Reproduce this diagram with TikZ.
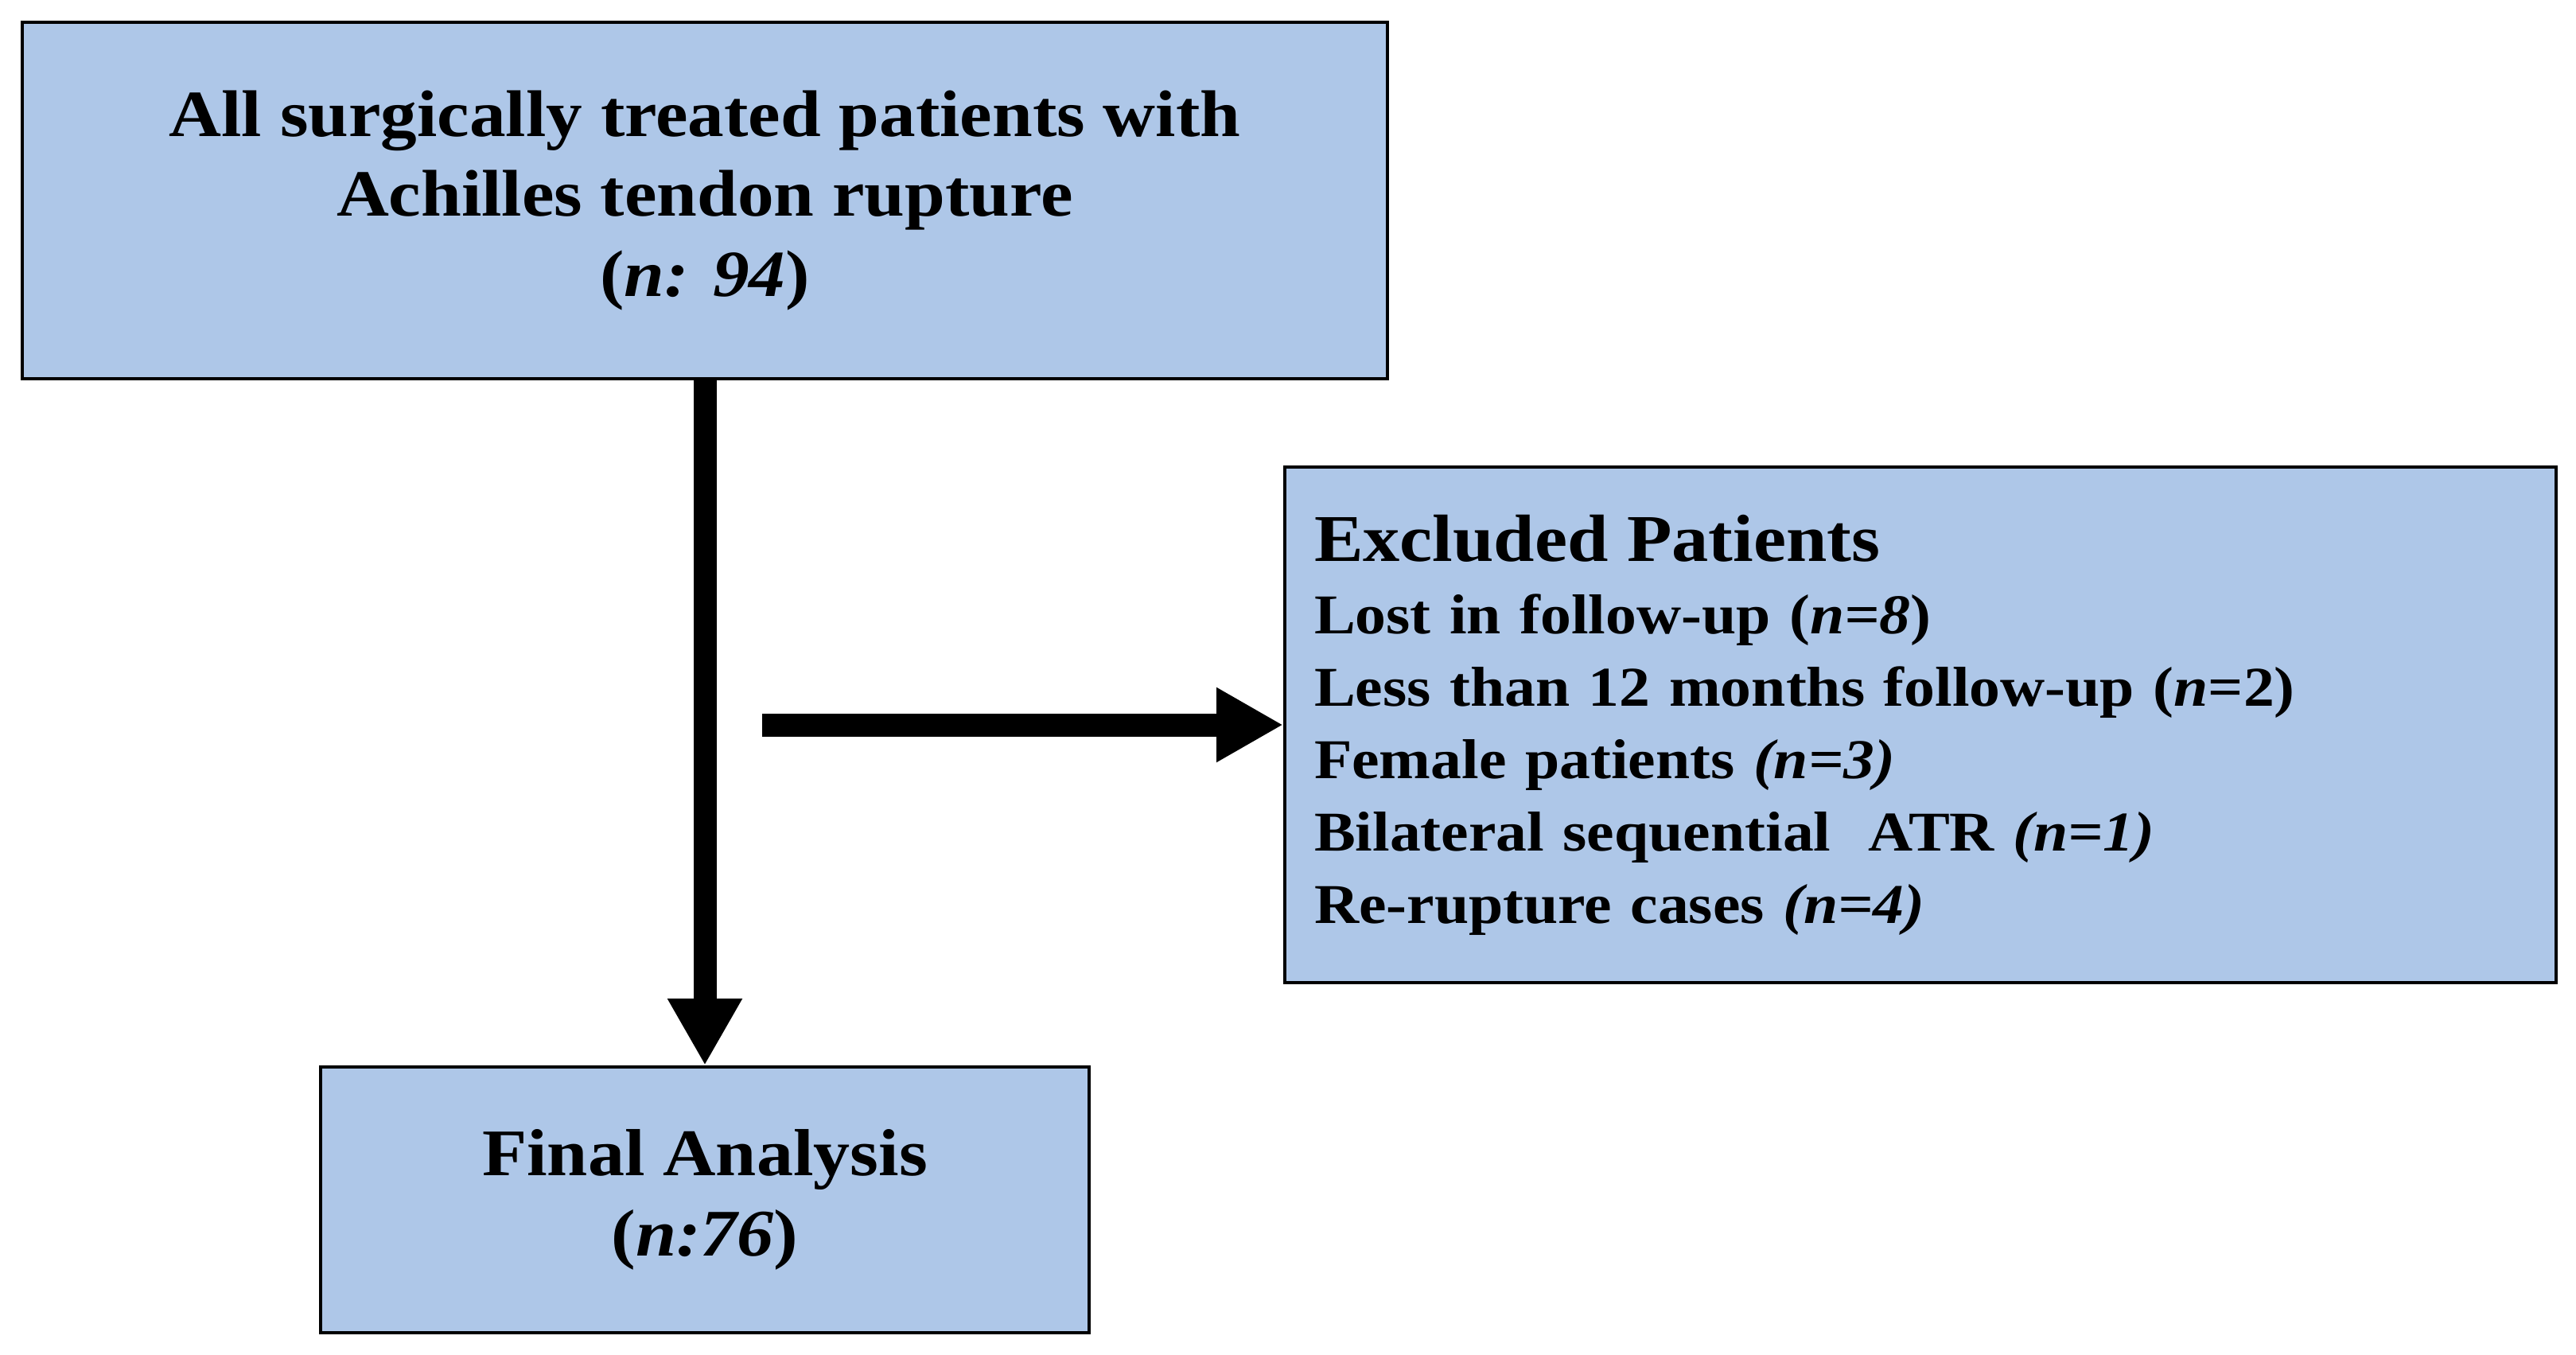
\documentclass[tikz,border=0pt]{standalone}
\usepackage{fontspec}
\setmainfont{Liberation Serif}[FakeStretch=1.1]
\usetikzlibrary{arrows.meta}
\definecolor{boxblue}{RGB}{174,199,232}
\tikzset{
  box/.style={draw=black, line width=0.04cm, fill=boxblue, inner sep=0pt},
  flow/.style={line width=0.29cm, -{Triangle[length=0.84cm, width=0.88cm]}},
}

\begin{document}
\begin{tikzpicture}
  \useasboundingbox (0,0) rectangle (32.38,-17.02);

  % Kutular
  \node[box, minimum width=17.16cm, minimum height=4.48cm, align=center,
        font=\bfseries\fontsize{23.6}{28.7}\selectfont] (all) at (8.86,-2.52)
        {All surgically treated patients with\\Achilles tendon rupture\\(\textit{n: 94})};
  \node[box, minimum width=15.98cm, minimum height=6.48cm, text width=15.24cm,
        inner xsep=0.37cm, align=left,
        font=\bfseries\fontsize{20.1}{25.9}\selectfont] (excl) at (24.14,-9.11)
        {{\fontsize{23.9}{25.9}\selectfont Excluded Patients}\\
         Lost in follow-up (\textit{n=8})\\
         Less than 12 months follow-up (\textit{n}=2)\\
         Female patients \textit{(n=3)}\\
         Bilateral sequential\ \ ATR \textit{(n=1)}\\
         Re-rupture cases \textit{(n=4)}};
  \node[box, minimum width=9.66cm, minimum height=3.34cm, align=center,
        font=\bfseries\fontsize{23.8}{28.7}\selectfont] (final) at (8.86,-15.08)
        {Final Analysis\\(\textit{n:76})};

  % Oklar
  \coordinate (hstart) at (9.58,-9.11);
  \draw[flow] (all.south) -- (final.north);
  \draw[flow] (hstart) -- (excl.west);
\end{tikzpicture}
\end{document}
